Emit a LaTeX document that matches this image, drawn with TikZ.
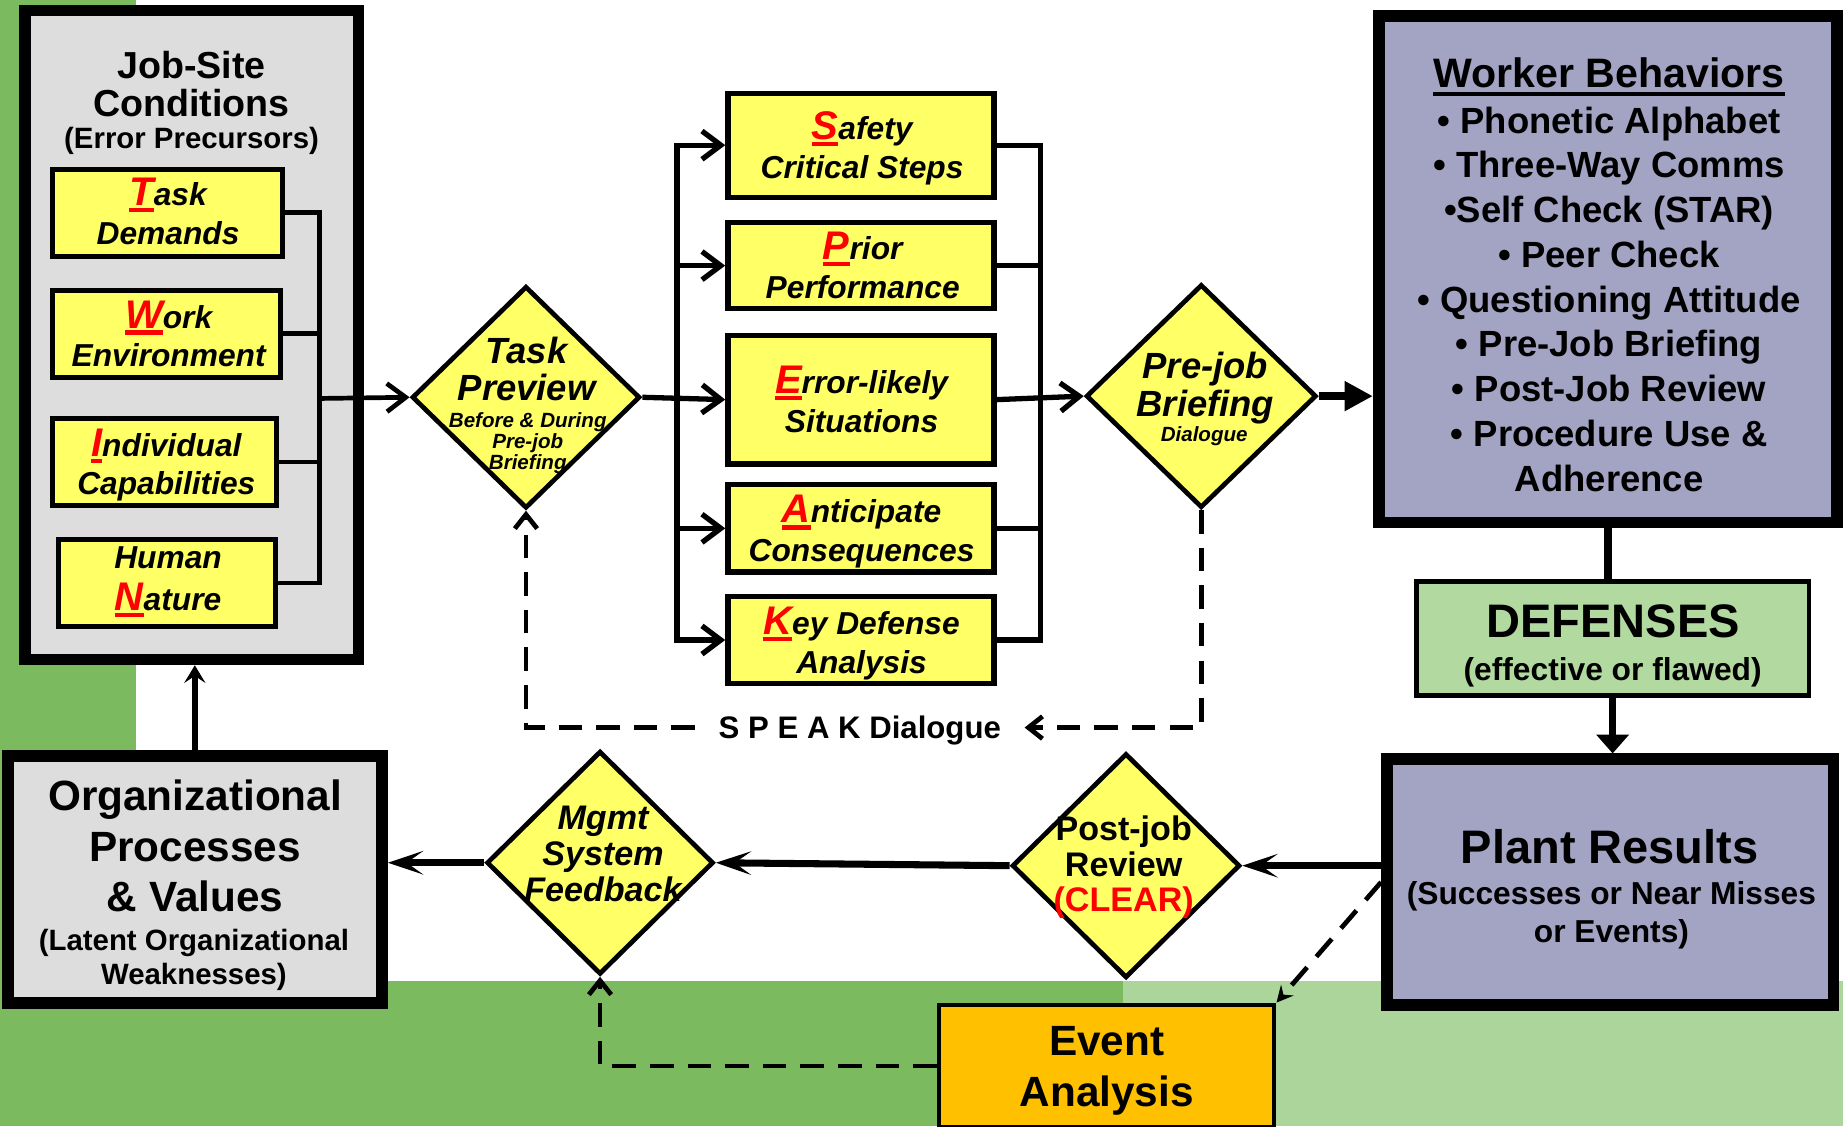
\documentclass[tikz,border=0pt]{standalone}
\usepackage{fontspec}
\setmainfont{Liberation Sans}
\usetikzlibrary{arrows.meta,shapes.geometric}
\definecolor{ylw}{RGB}{255,255,102}
\definecolor{lgray}{RGB}{221,221,221}
\definecolor{lav}{RGB}{163,163,195}
\definecolor{dgreen}{RGB}{123,186,94}
\definecolor{lgreen}{RGB}{171,213,155}
\definecolor{defg}{RGB}{178,218,160}
\definecolor{orng}{RGB}{255,192,0}
\newcommand\rl[1]{{\fontsize{34}{33}\selectfont\color{red}\setbox0\hbox{#1}\rlap{\rule[-0.165em]{\wd0}{0.105em}}\box0}}
\newcommand\ulb[1]{\setbox0\hbox{#1}\rlap{\rule[-0.2em]{\wd0}{0.09em}}\box0}
\tikzset{
  yb/.style={draw, fill=ylw, line width=4pt, inner sep=0pt},
  mb/.style={draw, fill=ylw, line width=4.5pt, inner sep=0pt, minimum width=226.5pt},
  dm/.style={draw, fill=ylw, diamond, line width=4pt, inner sep=0pt},
  bigbox/.style={draw, line width=10pt, inner sep=0pt},
  yt/.style={font=\fontsize{27}{33}\selectfont\bfseries\itshape, align=center, inner sep=0pt},
  txt/.style={align=center, inner sep=0pt},
  conn/.style={line width=4pt},
  mid/.style={line width=4.5pt},
  barbtip/.style={-{Straight Barb[length=16pt,width=24pt]}},
  thk/.style={line width=6pt, -{Stealth[length=30pt,width=20pt,inset=14pt]}},
  dsh/.style={line width=4pt, dash pattern=on 20pt off 12pt},
  dbarb/.style={-{Straight Barb[length=12pt,width=19pt]}}
}
\begin{document}
\begin{tikzpicture}[x=1pt,y=-1pt,line join=miter]
\useasboundingbox (0,0) rectangle (1568,958);
\clip (0,0) rectangle (1568,958);
\fill[white] (0,0) rectangle (1568,958);
\fill[dgreen] (0,0) rectangle (116,958);
\fill[dgreen] (0,835) rectangle (955,958);
\fill[lgreen] (955,835) rectangle (1568,958);

% Job-site conditions
\node[bigbox, fill=lgray, minimum width=284pt, minimum height=552pt] (JS) at (163,285) {};
\node[txt, font=\fontsize{32}{33}\selectfont\bfseries] (JSt) at (163,71.5) {Job-Site\\Conditions};
\node[inner sep=0pt, font=\fontsize{25}{25}\selectfont\bfseries, text height=18pt, text depth=0pt] (JSp) at (163,117) {(Error Precursors)};

\node[yb, minimum width=196pt, minimum height=74pt] (TD) at (142.5,181) {};
\node[yt] (TDt) at (143,180) {\rl{T}ask\\Demands};
\node[yb, minimum width=194pt, minimum height=74pt] (WE) at (141.5,284) {};
\node[yt] (WEt) at (143.5,284) {\rl{W}ork\\Environment};
\node[yb, minimum width=191pt, minimum height=74pt] (IC) at (140,393) {};
\node[yt] (ICt) at (141.5,395.7) {\rl{I}ndividual\\Capabilities};
\node[yb, minimum width=184.6pt, minimum height=74pt] (HN) at (142,496) {};
\node[yt, font=\fontsize{27}{36}\selectfont\bfseries\itshape] (HNt) at (143,495) {Human\\\rl{N}ature};

% Task preview
\node[dm, minimum width=194pt, minimum height=189pt] (TP) at (447.5,338) {};
\node[txt, font=\fontsize{31}{32}\selectfont\bfseries\itshape] (TPa) at (448,314) {Task\\Preview};
\node[txt, font=\fontsize{17.5}{18}\selectfont\bfseries\itshape] (TPb) at (449,377) {Before \& During\\Pre-job\\Briefing};

% middle boxes
\node[mb, minimum height=88.5pt] (SCS) at (732.5,123.5) {};
\node[yt] (SCSt) at (733.5,126) {\rl{S}afety\\Critical Steps};
\node[mb, minimum height=73.5pt] (PP) at (732.5,226) {};
\node[yt] (PPt) at (734,225.5) {\rl{P}rior\\Performance};
\node[mb, minimum height=109.5pt] (EL) at (732.5,340) {};
\node[yt] (ELt) at (733,340) {\rl{E}rror-likely\\Situations};
\node[mb, minimum height=74.5pt] (AC) at (732.5,449.5) {};
\node[yt] (ACt) at (733,452.5) {\rl{A}nticipate\\Consequences};
\node[mb, minimum height=74.5pt] (KD) at (732.5,544.5) {};
\node[yt] (KDt) at (733,547.5) {\rl{K}ey Defense\\Analysis};

% Pre-job briefing
\node[dm, minimum width=196pt, minimum height=190pt] (PJB) at (1022,337) {};
\node[txt, font=\fontsize{31}{32}\selectfont\bfseries\itshape] (PJBa) at (1025.5,330) {Pre-job\\Briefing};
\node[inner sep=0pt, font=\fontsize{17.5}{18}\selectfont\bfseries\itshape, text height=12.6pt, text depth=0pt] (PJBb) at (1024.5,369) {Dialogue};

% Worker behaviors
\node[bigbox, fill=lav, minimum width=390pt, minimum height=431pt] (WB) at (1368,229) {};
\node[inner sep=0pt, font=\fontsize{35}{35}\selectfont\bfseries, text height=25.2pt, text depth=0pt] (WBt) at (1369,62) {\ulb{Worker Behaviors}};
\node[txt, font=\fontsize{31}{38.1}\selectfont\bfseries] (WBl) at (1369,254.5) {• Phonetic Alphabet\\• Three-Way Comms\\•Self Check (STAR)\\• Peer Check\\• Questioning Attitude\\• Pre-Job Briefing\\• Post-Job Review\\• Procedure Use \&\\Adherence};

% Defenses
\node[draw, fill=defg, line width=4pt, inner sep=0pt, minimum width=334pt, minimum height=97pt] (DEF) at (1372,543.5) {};
\node[inner sep=0pt, font=\fontsize{40}{40}\selectfont\bfseries, text height=28.8pt, text depth=0pt] (DEFt) at (1372.5,528) {DEFENSES};
\node[inner sep=0pt, font=\fontsize{27}{27}\selectfont\bfseries, text height=19.4pt, text depth=0pt] (DEFs) at (1372,569) {(effective or flawed)};

% Plant results
\node[bigbox, fill=lav, minimum width=380pt, minimum height=209pt] (PR) at (1370,750.5) {};
\node[inner sep=0pt, font=\fontsize{40}{40}\selectfont\bfseries, text height=28.8pt, text depth=0pt] (PRt) at (1369.5,720) {Plant Results};
\node[txt, font=\fontsize{27}{32}\selectfont\bfseries] (PRs) at (1371,778.7) {(Successes or Near Misses\\or Events)};

% Post-job review
\node[dm, minimum width=194pt, minimum height=191pt] (PJR) at (958,736.5) {};
\node[txt, font=\fontsize{29}{30}\selectfont\bfseries] (PJRt) at (956,738) {Post-job\\Review\\\textcolor{red}{(CLEAR)}};

% Mgmt system feedback
\node[dm, minimum width=193pt, minimum height=190pt] (MG) at (510.5,734) {};
\node[txt, font=\fontsize{29}{30.5}\selectfont\bfseries\itshape] (MGt) at (513,726.5) {Mgmt\\System\\Feedback};

% Organizational processes
\node[bigbox, fill=lgray, minimum width=318.5pt, minimum height=210pt] (ORG) at (165.75,748.5) {};
\node[txt, font=\fontsize{36}{43}\selectfont\bfseries] (ORGa) at (166,720) {Organizational\\Processes\\\& Values};
\node[txt, font=\fontsize{25}{29}\selectfont\bfseries] (ORGb) at (165,817) {(Latent Organizational\\Weaknesses)};

% Event analysis
\node[draw, fill=orng, line width=4pt, inner sep=0pt, minimum width=285pt, minimum height=104pt] (EA) at (941.5,907) {};
\node[txt, font=\fontsize{36}{43}\selectfont\bfseries] (EAt) at (941.5,911) {Event\\Analysis};

% SPEAK label
\node[inner xsep=20pt, inner ysep=0pt, font=\fontsize{26.5}{30}\selectfont\bfseries, text height=19pt, text depth=0pt] (SP) at (731.5,619) {S P E A K Dialogue};

% connectors: job-site bus
\coordinate (BJ) at (272,339);
\draw[conn] (TD.east) -| (BJ);
\draw[conn] (HN.east) -| (BJ);
\draw[conn] (WE.east) -- (WE.east -| BJ);
\draw[conn] (IC.east) -- (IC.east -| BJ);
\draw[conn, barbtip] (BJ) -- (TP.west);

% left bus
\coordinate (BL) at (576,340);
\draw[mid, barbtip] (TP.east) -- (EL.west);
\draw[mid, barbtip] (BL) |- (SCS.west);
\draw[mid, barbtip] (BL) |- (PP.west);
\draw[mid, barbtip] (BL) |- (AC.west);
\draw[mid, barbtip] (BL) |- (KD.west);

% right bus
\coordinate (BR) at (885,340);
\draw[mid] (SCS.east) -| (BR);
\draw[mid] (KD.east) -| (BR);
\draw[mid] (PP.east) -- (PP.east -| BR);
\draw[mid] (AC.east) -- (AC.east -| BR);
\draw[mid, barbtip] (EL.east) -- (PJB.west);

% right side
\draw[line width=7pt, -{Triangle[length=24pt,width=24pt]}] (PJB.east) -- (PJB.east -| WB.west);
\draw[line width=6.5pt] (WB.south) -- (WB.south |- DEF.north);
\draw[line width=6.5pt, -{Triangle[length=16pt,width=27pt]}] (DEF.south) -- (DEF.south |- PR.north);

% bottom flow
\draw[thk] (PR.west |- PJR.east) -- (PJR.east);
\draw[thk] (PJR.west) -- (MG.east);
\draw[thk] (MG.west) -- (MG.west -| ORG.east);
\draw[line width=5.5pt, -{Stealth[length=15pt,width=18pt,inset=6pt]}] (ORG.north) -- (ORG.north |- JS.south);

% dashed
\draw[dsh, dbarb] (PJB.south) |- (SP.east);
\draw[dsh, dbarb] (SP.west) -| (TP.south);
\draw[dsh, dbarb] (EA.west) -| (MG.south);
\draw[dsh, -{Stealth[length=14pt,width=14pt,inset=5pt]}] (PR.west) -- (EA.north east);
\end{tikzpicture}
\end{document}
